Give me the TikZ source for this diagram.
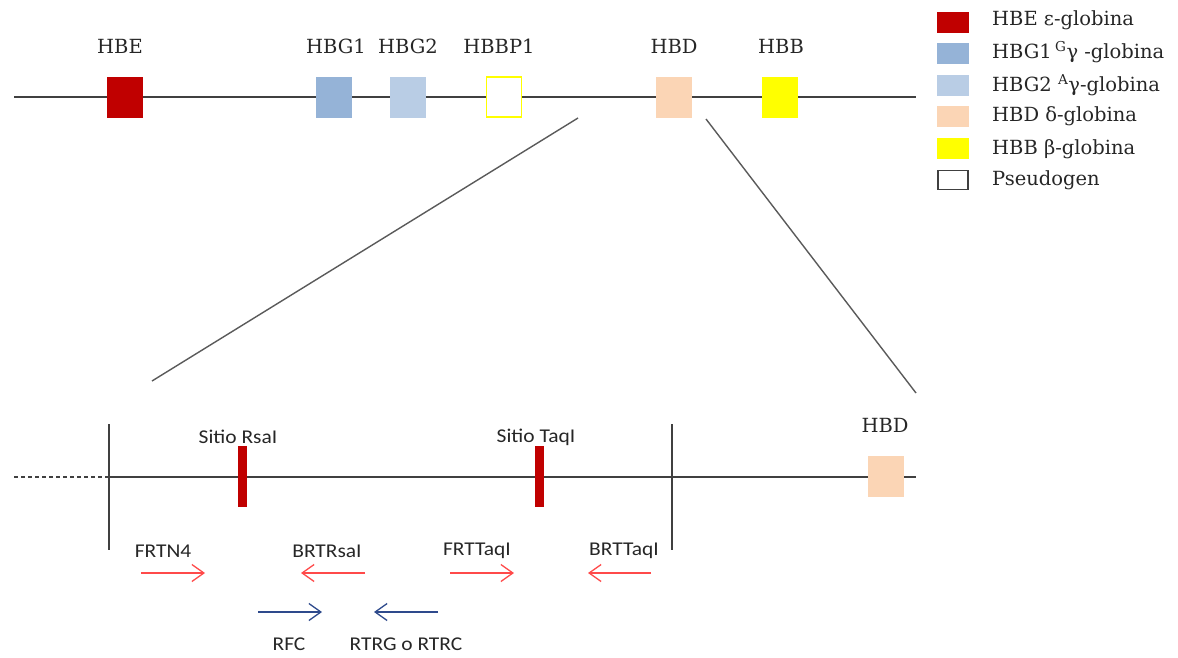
\documentclass[tikz,border=0pt]{standalone}
\usepackage{fontspec}
\setmainfont{DejaVu Serif}
\newfontfamily\lab[FakeStretch=1.1]{Carlito}
\usetikzlibrary{arrows.meta}
\definecolor{gred}{HTML}{C00000}
\definecolor{gblueA}{HTML}{95B3D7}
\definecolor{gblueB}{HTML}{B9CDE5}
\definecolor{gpeach}{HTML}{FBD5B5}
\definecolor{gyellow}{HTML}{FFFF00}
\definecolor{axis}{HTML}{404040}
\definecolor{zoomln}{HTML}{5A5A5A}
\definecolor{fwd}{HTML}{FF4A4A}
\definecolor{blu}{HTML}{2E4A8C}
\tikzset{
  gene/.style={draw=none, minimum width=36pt, minimum height=41pt, inner sep=0pt},
  glabel/.style={font=\fontsize{19.5}{22}\selectfont, text=black!85, inner sep=0pt},
  key/.style={minimum width=32pt, minimum height=21pt, inner sep=0pt},
  ktext/.style={font=\fontsize{19.5}{22}\selectfont, text=black!85, anchor=west, inner sep=0pt},
  slab/.style={font=\lab\fontsize{19.5}{22}\selectfont, text=black!85, inner sep=0pt},
  axisline/.style={draw=axis, line width=1.2pt},
  site/.style={fill=gred, minimum width=9pt, minimum height=61pt, inner sep=0pt},
  primer/.style={line width=1.3pt, -{Straight Barb[length=12pt, width=17pt, line width=1.3pt]}},
}
\begin{document}
\begin{tikzpicture}[x=1pt, y=-1pt]
\useasboundingbox (0,0) rectangle (1178,657);
\clip (0,0) rectangle (1178,657);

% upper chromosome line
\coordinate (L0) at (14,97);
\coordinate (L1) at (916,97);
\draw[axisline] (L0) -- (L1);

% genes of the cluster
\node[gene, fill=gred]   (hbe)  at (125,97) {};
\node[gene, fill=gblueA] (hbg1) at (334,97) {};
\node[gene, fill=gblueB] (hbg2) at (408,97) {};
\node[gene, fill=white, draw=gyellow, line width=1.2pt, minimum width=35pt, minimum height=40pt] (hbbp1) at (504,97) {};
\node[gene, fill=gpeach] (hbd)  at (674,97) {};
\node[gene, fill=gyellow] (hbb) at (780,97) {};

\node[glabel] at (120,46) {HBE};
\node[glabel] at (336,46) {HBG1};
\node[glabel] at (408,46) {HBG2};
\node[glabel] at (499,46) {HBBP1};
\node[glabel] at (674,46) {HBD};
\node[glabel] at (781,46) {HBB};

% legend
\node[key, fill=gred]   (k1) at (953,22) {};
\node[key, fill=gblueA] (k2) at (953,53) {};
\node[key, fill=gblueB] (k3) at (953,85) {};
\node[key, fill=gpeach] (k4) at (953,116) {};
\node[key, fill=gyellow] (k5) at (953,148) {};
\node[key, draw=axis, line width=1.2pt, minimum width=30pt, minimum height=19pt] (k6) at (953,180) {};
\node[ktext] at (992,20) {HBE ε-globina};
\node[ktext] at (992,52) {HBG1\,\textsuperscript{G}γ -globina};
\node[ktext] at (992,85) {HBG2 \textsuperscript{A}γ-globina};
\node[ktext] at (992,116) {HBD δ-globina};
\node[ktext] at (992,149) {HBB β-globina};
\node[ktext] at (992,180) {Pseudogen};

% zoom lines
\coordinate (z0) at (578,118);
\coordinate (z1) at (152,381);
\coordinate (z2) at (706,119);
\coordinate (z3) at (916,393);
\draw[zoomln, line width=1.4pt] (z0) -- (z1);
\draw[zoomln, line width=1.4pt] (z2) -- (z3);

% enlarged region
\coordinate (d0) at (14,477);
\coordinate (d1) at (109,477);
\coordinate (e1) at (916,477);
\draw[axisline, dashed, dash pattern=on 4pt off 3pt] (d0) -- (d1);
\draw[axisline] (d1) -- (e1);
\coordinate (v1a) at (109,424);
\coordinate (v1b) at (109,550);
\coordinate (v2a) at (672,424);
\coordinate (v2b) at (672,550);
\draw[axisline] (v1a) -- (v1b);
\draw[axisline] (v2a) -- (v2b);

\node[gene, fill=gpeach] (hbd2) at (886,476) {};
\node[glabel] at (885,425) {HBD};

\node[site] (rsa) at (242,476) {};
\node[site] (taq) at (539,476) {};
\node[slab] at (238,437) {Sitio RsaI};
\node[slab] at (536,437) {Sitio TaqI};

% primers
\node[slab] at (163,551) {FRTN4};
\node[slab] at (327,551) {BRTRsaI};
\node[slab] at (477,551) {FRTTaqI};
\node[slab] at (624,551) {BRTTaqI};

\coordinate (p1a) at (141,573); \coordinate (p1b) at (205,573);
\coordinate (p2a) at (365,573); \coordinate (p2b) at (301,573);
\coordinate (p3a) at (450,573); \coordinate (p3b) at (514,573);
\coordinate (p4a) at (651,573); \coordinate (p4b) at (588,573);
\draw[primer, fwd] (p1a) -- (p1b);
\draw[primer, fwd] (p2a) -- (p2b);
\draw[primer, fwd] (p3a) -- (p3b);
\draw[primer, fwd] (p4a) -- (p4b);

\coordinate (q1a) at (258,612); \coordinate (q1b) at (322,612);
\coordinate (q2a) at (438,612); \coordinate (q2b) at (374,612);
\draw[primer, blu] (q1a) -- (q1b);
\draw[primer, blu] (q2a) -- (q2b);

\node[slab] at (289,644) {RFC};
\node[slab] at (406,644) {RTRG o RTRC};
\end{tikzpicture}
\end{document}
